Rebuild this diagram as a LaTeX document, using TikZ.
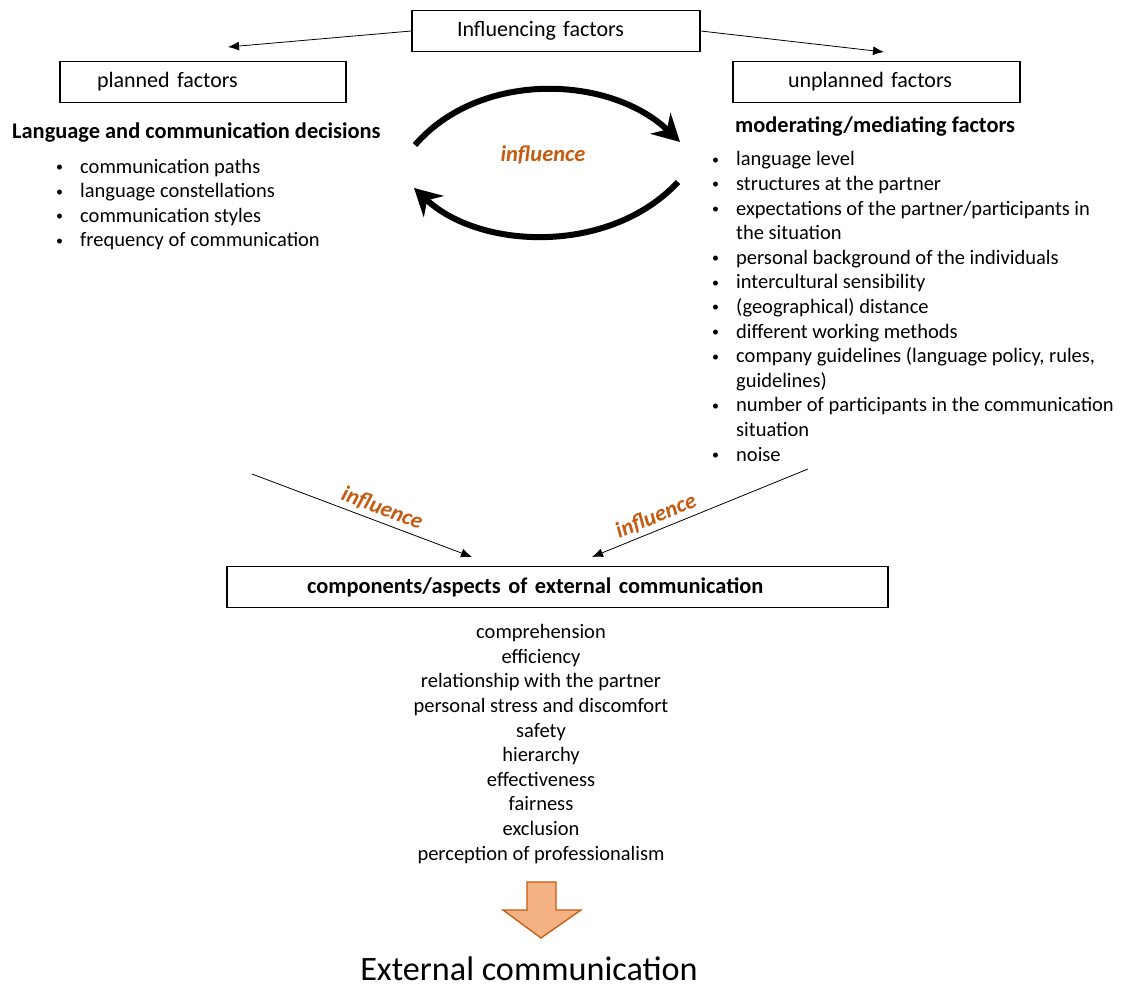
\documentclass[tikz,border=0pt]{standalone}
\usepackage{fontspec}
\setmainfont{Carlito}
\usetikzlibrary{arrows.meta}
\definecolor{rust}{HTML}{C55A11}
\definecolor{peach}{HTML}{F4B183}

\tikzset{
  body/.style={font=\fontsize{20.5}{24.6}\selectfont, inner sep=0pt},
  boxtext/.style={font=\fontsize{22}{26}\selectfont, inner sep=0pt},
  head/.style={font=\fontsize{22.4}{26}\selectfont\bfseries, inner sep=0pt},
  box/.style={draw, line width=1.3pt, rectangle, minimum height=41pt, inner ysep=0pt},
  lbl/.style={text=rust, font=\fontsize{22.5}{26}\selectfont\bfseries\itshape, inner sep=2pt},
  thinarrow/.style={line width=0.8pt, -{Latex[length=11pt,width=9pt]}},
  swirl/.style={line width=6pt, -{Stealth[length=27pt,width=29pt,inset=9pt]}},
}
% bullet marker and continuation indent for the factor lists
\newcommand\bl{\makebox[24pt][l]{\fontsize{14}{14}\selectfont\raisebox{1.5pt}{•}}}
\newcommand\ct{\hspace*{24pt}}

\begin{document}
\begin{tikzpicture}[x=1pt,y=-1pt]
\useasboundingbox (0,0) rectangle (1122,987);

% top boxes
\node[boxtext, box, inner xsep=45pt, text width=198pt, align=left] (inf) at (556,31) {Influencing factors};
\node[boxtext, box, inner xsep=37pt, text width=212pt, align=left] (plan) at (203,82) {planned factors};
\node[boxtext, box, inner xsep=55pt, text width=177pt, align=left] (unplan) at (876.5,82) {unplanned factors};
\coordinate (pA) at (228,47);
\coordinate (uA) at (884,52);
\draw[thinarrow] (inf.west) -- (pA);
\draw[thinarrow] (inf.east) -- (uA);

% planned side (node base = baseline of the last line)
\node[head, anchor=base west] (lhead) at (12,139) {Language and communication decisions};
\node[body, anchor=base west, align=left] (llist) at (56,247) {%
\bl communication paths\\
\bl language constellations\\
\bl communication styles\\
\bl frequency of communication};

% unplanned side
\node[head, anchor=base west] (rhead) at (735,133) {moderating/mediating factors};
\node[body, anchor=base west, align=left] (rlist) at (712,461) {%
\bl language level\\
\bl structures at the partner\\
\bl expectations of the partner/participants in\\
\ct the situation\\
\bl personal background of the individuals\\
\bl intercultural sensibility\\
\bl (geographical) distance\\
\bl different working methods\\
\bl company guidelines (language policy, rules,\\
\ct guidelines)\\
\bl number of participants in the communication\\
\ct situation\\
\bl noise};

% mutual influence
\coordinate (s1) at (415,145);
\coordinate (e1) at (680,142);
\coordinate (s2) at (678,182);
\coordinate (e2) at (414,188);
\draw[swirl] (s1) .. controls (480,70) and (610,75) .. (e1);
\draw[swirl] (s2) .. controls (610,255) and (480,250) .. (e2);
\node[lbl] (infl) at (543,155) {influence};

% components box and incoming influences
\node[head, box, inner xsep=80pt, text width=501pt, align=left] (comp) at (557.5,587) {components/aspects of external communication};
\coordinate (dl) at (252,474);
\coordinate (dr) at (808,469);
\coordinate (tl) at (472,557);
\coordinate (tr) at (592,557);
\draw[thinarrow] (dl) -- node[lbl, sloped, above, pos=0.57, inner sep=4pt] (il) {influence} (tl);
\draw[thinarrow] (dr) -- node[lbl, sloped, above, pos=0.68, inner sep=4pt] (ir) {influence} (tr);

\node[body, anchor=base, align=center] (aspects) at (541,860) {%
comprehension\\
efficiency\\
relationship with the partner\\
personal stress and discomfort\\
safety\\
hierarchy\\
effectiveness\\
fairness\\
exclusion\\
perception of professionalism};

% result arrow
\draw[fill=peach, draw=rust, line width=1.3pt, line join=miter]
  (527,882) -- (556,882) -- (556,910) -- (581,910) -- (541,938) -- (503,910) -- (527,910) -- cycle;
\node[font=\fontsize{34.2}{40}\selectfont, anchor=base, inner sep=0pt] (ext) at (529,980) {External communication};
\end{tikzpicture}
\end{document}
